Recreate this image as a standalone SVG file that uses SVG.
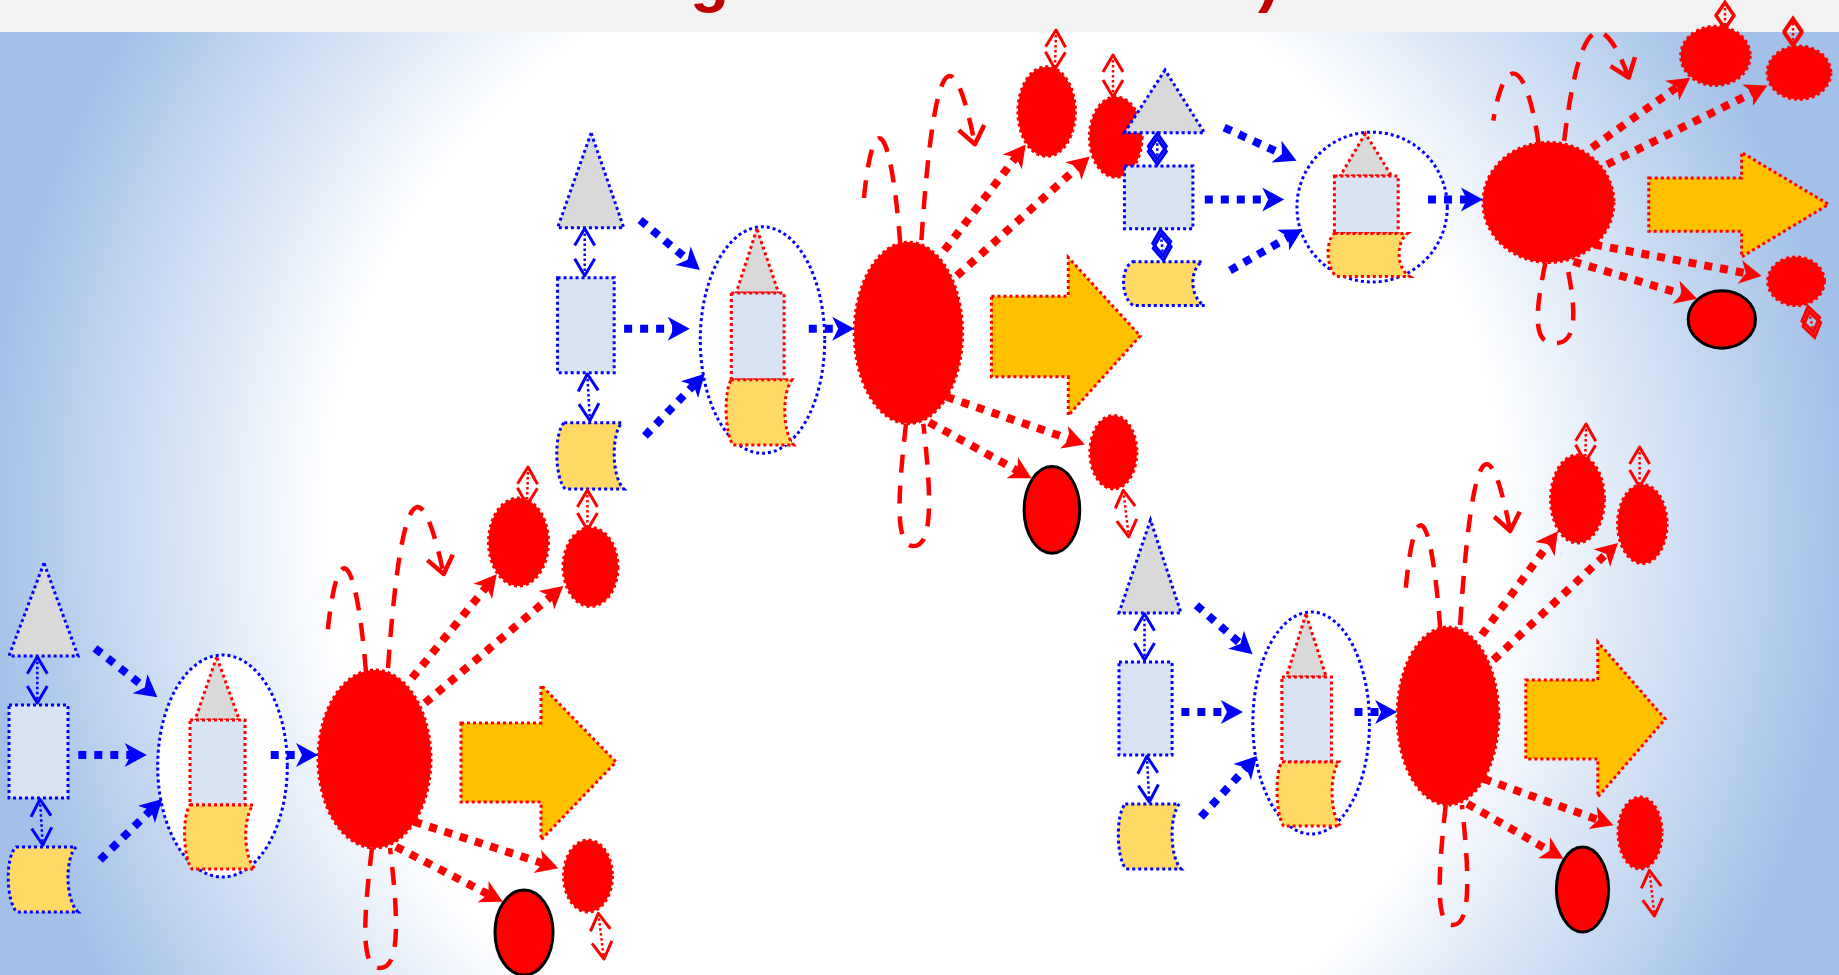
<svg xmlns="http://www.w3.org/2000/svg" width="1839" height="975" viewBox="0 0 1839 975">
<defs>
<radialGradient id="bg" gradientUnits="userSpaceOnUse" cx="915" cy="526" r="930">
<stop offset="0" stop-color="#ffffff"/>
<stop offset="0.63" stop-color="#ffffff"/>
<stop offset="1" stop-color="#a3c1e8"/>
</radialGradient>
<marker id="bh" markerUnits="userSpaceOnUse" viewBox="0 0 24 26" markerWidth="24" markerHeight="26" refX="11" refY="13" orient="auto" overflow="visible"><path d="M1,1 L23,13 L1,25 L7,13 Z" fill="#0000ff"/></marker>
<marker id="rh" markerUnits="userSpaceOnUse" viewBox="0 0 24 26" markerWidth="24" markerHeight="26" refX="11" refY="13" orient="auto" overflow="visible"><path d="M1,1 L23,13 L1,25 L7,13 Z" fill="#ff0000"/></marker>
<marker id="bv" markerUnits="userSpaceOnUse" viewBox="0 0 22 24" markerWidth="22" markerHeight="24" refX="19" refY="12" orient="auto-start-reverse" overflow="visible"><path d="M2,2 L19,12 L2,22" fill="none" stroke="#0000ff" stroke-width="3" stroke-linejoin="round"/></marker>
<marker id="rv" markerUnits="userSpaceOnUse" viewBox="0 0 22 24" markerWidth="22" markerHeight="24" refX="19" refY="12" orient="auto-start-reverse" overflow="visible"><path d="M2,2 L19,12 L2,22" fill="none" stroke="#ff0000" stroke-width="3" stroke-linejoin="round"/></marker>
<marker id="lv" markerUnits="userSpaceOnUse" viewBox="0 0 22 32" markerWidth="22" markerHeight="32" refX="19" refY="16" orient="auto" overflow="visible"><path d="M2,3 L19,16 L2,29" fill="none" stroke="#ff0000" stroke-width="4.5" stroke-linejoin="round"/></marker>
<marker id="bdm" markerUnits="userSpaceOnUse" viewBox="0 0 30 22" markerWidth="30" markerHeight="22" refX="28" refY="11" orient="auto-start-reverse" overflow="visible"><path d="M2,11 L15,2 L28,11 L15,20 Z" fill="none" stroke="#0000ff" stroke-width="3"/></marker>
<marker id="rdm" markerUnits="userSpaceOnUse" viewBox="0 0 30 22" markerWidth="30" markerHeight="22" refX="28" refY="11" orient="auto-start-reverse" overflow="visible"><path d="M2,11 L15,2 L28,11 L15,20 Z" fill="none" stroke="#ff0000" stroke-width="3"/></marker>
<style>
.bd{stroke:#0000ff;stroke-width:3;stroke-dasharray:3 3;vector-effect:non-scaling-stroke}
.rd{stroke:#ff0000;stroke-width:3;stroke-dasharray:3 3;vector-effect:non-scaling-stroke}
.tri{fill:#d9d9d9}
.rec{fill:#dae3f3}
.doc{fill:#ffd966}
.cont{fill:#ffffff}
.red{fill:#ff0000}
.yel{fill:#ffc000}
.blk{fill:#ff0000;stroke:#000000;stroke-width:3;vector-effect:non-scaling-stroke}
.ba{stroke:#0000ff;stroke-width:8;stroke-dasharray:8 8;fill:none;marker-end:url(#bh)}
.ra{stroke:#ff0000;stroke-width:8;stroke-dasharray:8 8;fill:none;marker-end:url(#rh)}
.bt{stroke:#0000ff;stroke-width:2.5;stroke-dasharray:2.5 2.5;fill:none;marker-start:url(#bv);marker-end:url(#bv)}
.rt{stroke:#ff0000;stroke-width:2.5;stroke-dasharray:2.5 2.5;fill:none;marker-start:url(#rv);marker-end:url(#rv)}
.btd{stroke:#0000ff;stroke-width:2.5;stroke-dasharray:2.5 2.5;fill:none;marker-start:url(#bdm);marker-end:url(#bdm)}
.rtd{stroke:#ff0000;stroke-width:2.5;stroke-dasharray:2.5 2.5;fill:none;marker-start:url(#rdm);marker-end:url(#rdm)}
.lp{stroke:#ff0000;stroke-width:4.5;stroke-dasharray:18 13;fill:none}
.lpa{marker-end:url(#lv)}
.ttl{font-family:"Liberation Sans",Arial,sans-serif;font-weight:bold;font-size:64px;fill:#c00000}
</style>
</defs>
<rect x="0" y="0" width="1839" height="975" fill="url(#bg)"/>
<rect x="0" y="0" width="1839" height="32" fill="#f2f2f2"/>
<text class="ttl" x="690" y="0">g</text>
<text class="ttl" x="1258" y="0">)</text>

<g id="module1">
<g id="m1-tri"><polygon class="tri bd" points="44,563 9,656 78,656"/></g>
<g id="m1-rect"><rect class="rec bd" x="9" y="705" width="59" height="93"/></g>
<g id="m1-doc"><path class="doc bd" d="M16,847 H76 C65,858 65,900 78,912 H17 C6,902 5,857 16,847 Z"/></g>
<g id="m1-cont"><ellipse class="cont bd" cx="222.5" cy="766" rx="64.8" ry="111"/>
<polygon class="tri rd" points="216.7,657 195,720 239.3,720"/>
<rect class="rec rd" x="190" y="720" width="55" height="85"/>
<path class="doc rd" d="M190,805 H253 C243,818 243,856 255,869 H192 C183,858 182,816 190,805 Z"/></g>
<g id="m1-big"><ellipse class="red rd" cx="374.5" cy="759" rx="56.5" ry="89"/></g>
<g id="m1-out"><path class="yel rd" d="M461,723 H541 V685 L616,762 L541,840 V802 H461 Z"/></g>
<g id="m1-a"><ellipse class="red rd" cx="518.5" cy="542" rx="30" ry="44"/></g>
<g id="m1-b"><ellipse class="red rd" cx="590.5" cy="567" rx="27.5" ry="39.5"/></g>
<g id="m1-c"><ellipse class="red rd" cx="588" cy="876" rx="24.5" ry="36"/></g>
<g id="m1-d"><ellipse class="blk" cx="524" cy="932.5" rx="29" ry="42.5"/></g>
</g>

<g id="module2" transform="matrix(0.96 0 0 1.02 548.9 -441.3)">
<g id="m2-tri"><polygon class="tri bd" points="44,563 9,656 78,656"/></g>
<g id="m2-rect"><rect class="rec bd" x="9" y="705" width="59" height="93"/></g>
<g id="m2-doc"><path class="doc bd" d="M16,847 H76 C65,858 65,900 78,912 H17 C6,902 5,857 16,847 Z"/></g>
<g id="m2-cont"><ellipse class="cont bd" cx="222.5" cy="766" rx="64.8" ry="111"/>
<polygon class="tri rd" points="216.7,657 195,720 239.3,720"/>
<rect class="rec rd" x="190" y="720" width="55" height="85"/>
<path class="doc rd" d="M190,805 H253 C243,818 243,856 255,869 H192 C183,858 182,816 190,805 Z"/></g>
<g id="m2-big"><ellipse class="red rd" cx="374.5" cy="759" rx="56.5" ry="89"/></g>
<g id="m2-out"><path class="yel rd" d="M461,723 H541 V685 L616,762 L541,840 V802 H461 Z"/></g>
<g id="m2-a"><ellipse class="red rd" cx="518.5" cy="542" rx="30" ry="44"/></g>
<g id="m2-b"><ellipse class="red rd" cx="590.5" cy="567" rx="27.5" ry="39.5"/></g>
<g id="m2-c"><ellipse class="red rd" cx="588" cy="876" rx="24.5" ry="36"/></g>
<g id="m2-d"><ellipse class="blk" cx="524" cy="932.5" rx="29" ry="42.5"/></g>
</g>

<g id="module3" transform="matrix(1.16 0 0 0.675 1114 -310)">
<g id="m3-tri"><polygon class="tri bd" points="44,563 9,656 78,656"/></g>
<g id="m3-rect"><rect class="rec bd" x="9" y="705" width="59" height="93"/></g>
<g id="m3-doc"><path class="doc bd" d="M16,847 H76 C65,858 65,900 78,912 H17 C6,902 5,857 16,847 Z"/></g>
<g id="m3-cont"><ellipse class="cont bd" cx="222.5" cy="766" rx="64.8" ry="111"/>
<polygon class="tri rd" points="216.7,657 195,720 239.3,720"/>
<rect class="rec rd" x="190" y="720" width="55" height="85"/>
<path class="doc rd" d="M190,805 H253 C243,818 243,856 255,869 H192 C183,858 182,816 190,805 Z"/></g>
<g id="m3-big"><ellipse class="red rd" cx="374.5" cy="759" rx="56.5" ry="89"/></g>
<g id="m3-out"><path class="yel rd" d="M461,723 H541 V685 L616,762 L541,840 V802 H461 Z"/></g>
<g id="m3-a"><ellipse class="red rd" cx="518.5" cy="542" rx="30" ry="44"/></g>
<g id="m3-b"><ellipse class="red rd" cx="590.5" cy="567" rx="27.5" ry="39.5"/></g>
<g id="m3-c"><ellipse class="red rd" cx="588" cy="876" rx="24.5" ry="36"/></g>
<g id="m3-d"><ellipse class="blk" cx="524" cy="932.5" rx="29" ry="42.5"/></g>
</g>

<g id="module4" transform="matrix(0.9 0 0 1 1110.9 -43)">
<g id="m4-tri"><polygon class="tri bd" points="44,563 9,656 78,656"/></g>
<g id="m4-rect"><rect class="rec bd" x="9" y="705" width="59" height="93"/></g>
<g id="m4-doc"><path class="doc bd" d="M16,847 H76 C65,858 65,900 78,912 H17 C6,902 5,857 16,847 Z"/></g>
<g id="m4-cont"><ellipse class="cont bd" cx="222.5" cy="766" rx="64.8" ry="111"/>
<polygon class="tri rd" points="216.7,657 195,720 239.3,720"/>
<rect class="rec rd" x="190" y="720" width="55" height="85"/>
<path class="doc rd" d="M190,805 H253 C243,818 243,856 255,869 H192 C183,858 182,816 190,805 Z"/></g>
<g id="m4-big"><ellipse class="red rd" cx="374.5" cy="759" rx="56.5" ry="89"/></g>
<g id="m4-out"><path class="yel rd" d="M461,723 H541 V685 L616,762 L541,840 V802 H461 Z"/></g>
<g id="m4-a"><ellipse class="red rd" cx="518.5" cy="542" rx="30" ry="44"/></g>
<g id="m4-b"><ellipse class="red rd" cx="590.5" cy="567" rx="27.5" ry="39.5"/></g>
<g id="m4-c"><ellipse class="red rd" cx="588" cy="876" rx="24.5" ry="36"/></g>
<g id="m4-d"><ellipse class="blk" cx="524" cy="932.5" rx="29" ry="42.5"/></g>
</g>

<g id="connectors">
<line class="ba" x1="95" y1="648.3" x2="147.9" y2="689.9"/>
<line class="ba" x1="78.3" y1="755" x2="134.7" y2="755"/>
<line class="ba" x1="100" y1="860" x2="153.7" y2="807.4"/>
<line class="ba" x1="270.7" y1="755" x2="306" y2="755"/>
<line class="ra" x1="412" y1="678" x2="489.1" y2="583.6"/>
<line class="ra" x1="425" y1="703" x2="554.1" y2="593.8"/>
<line class="ra" x1="414" y1="821.7" x2="546.9" y2="864.6"/>
<line class="ra" x1="396" y1="846.7" x2="492" y2="896.2"/>
<line class="bt" x1="37.3" y1="656.7" x2="37.3" y2="703"/>
<line class="bt" x1="40" y1="799.3" x2="42.7" y2="845"/>
<line class="rt" x1="528" y1="467" x2="527" y2="505"/>
<line class="rt" x1="587.4" y1="490" x2="587.4" y2="530"/>
<line class="rt" x1="598.3" y1="913.3" x2="604" y2="959"/>
<path class="lp" d="M366,672 C355,540 336,540 327,638"/>
<path class="lp lpa" d="M388,668 C400,500 418,455 443.7,574"/>
<path class="lp" d="M372,848 C362,930 362,968 380,968 C398,968 400,930 390,848"/>

<line class="ba" x1="640.1" y1="220" x2="690.7" y2="262.2"/>
<line class="ba" x1="624.1" y1="328.8" x2="677.7" y2="328.8"/>
<line class="ba" x1="644.9" y1="435.9" x2="696.4" y2="382.4"/>
<line class="ba" x1="808.8" y1="328.8" x2="842.2" y2="328.8"/>
<line class="ra" x1="944.4" y1="250.3" x2="1018.4" y2="154"/>
<line class="ra" x1="956.9" y1="275.8" x2="1080.8" y2="164.4"/>
<line class="ra" x1="946.3" y1="396.8" x2="1073.5" y2="440.5"/>
<line class="ra" x1="929.1" y1="422.3" x2="1021" y2="472.6"/>
<line class="bt" x1="584.7" y1="228.5" x2="584.7" y2="275.8"/>
<line class="bt" x1="587.3" y1="374" x2="589.9" y2="420.6"/>
<line class="rt" x1="1056" y1="30" x2="1055" y2="69"/>
<line class="rt" x1="1113" y1="55" x2="1113" y2="97"/>
<line class="rt" x1="1123.3" y1="490.3" x2="1128.7" y2="536.9"/>
<path class="lp" d="M900.3,244.1 C889.7,109.5 871.5,109.5 862.8,209.5"/>
<path class="lp lpa" d="M921.4,240.1 C932.9,68.7 950.2,22.8 974.9,144.2"/>
<path class="lp" d="M906,423.7 C896.4,507.3 896.4,546.1 913.7,546.1 C931,546.1 932.9,507.3 923.3,423.7"/>

<line class="ba" x1="1224.2" y1="127.6" x2="1285.6" y2="155.7"/>
<line class="ba" x1="1204.8" y1="199.6" x2="1272.2" y2="199.6"/>
<line class="ba" x1="1230" y1="270.5" x2="1291.9" y2="235.2"/>
<line class="ba" x1="1428" y1="199.6" x2="1470.9" y2="199.6"/>
<line class="ra" x1="1591.9" y1="147.7" x2="1680.4" y2="84.7"/>
<line class="ra" x1="1607" y1="164.5" x2="1756.6" y2="90.9"/>
<line class="ra" x1="1594.2" y1="244.6" x2="1749.8" y2="273.9"/>
<line class="ra" x1="1573.4" y1="261.5" x2="1685.6" y2="295.2"/>
<line class="btd" x1="1157.3" y1="133.3" x2="1157.3" y2="164.5"/>
<line class="btd" x1="1160.4" y1="229.5" x2="1163.5" y2="260.4"/>
<line class="rtd" x1="1725" y1="3" x2="1725" y2="28"/>
<line class="rtd" x1="1793" y1="18" x2="1793" y2="46"/>
<line class="rtd" x1="1808" y1="306.5" x2="1814.6" y2="337.3"/>
<path class="lp" d="M1538.6,143.6 C1525.8,54.5 1503.8,54.5 1493.3,120.7"/>
<path class="lp lpa" d="M1564.1,140.9 C1578,27.5 1598.9,-2.9 1628.7,77.5"/>
<path class="lp" d="M1545.5,262.4 C1533.9,317.8 1533.9,343.4 1554.8,343.4 C1575.7,343.4 1578,317.8 1566.4,262.4"/>

<line class="ba" x1="1196.4" y1="605.3" x2="1243.5" y2="646.4"/>
<line class="ba" x1="1181.4" y1="712" x2="1230.9" y2="712"/>
<line class="ba" x1="1200.9" y1="817" x2="1248.9" y2="764.8"/>
<line class="ba" x1="1354.5" y1="712" x2="1385.1" y2="712"/>
<line class="ra" x1="1481.7" y1="635" x2="1550.8" y2="541"/>
<line class="ra" x1="1493.4" y1="660" x2="1609.2" y2="551.2"/>
<line class="ra" x1="1483.5" y1="778.7" x2="1602.1" y2="821.2"/>
<line class="ra" x1="1467.3" y1="803.7" x2="1552.9" y2="852.7"/>
<line class="bt" x1="1144.5" y1="613.7" x2="1144.5" y2="660"/>
<line class="bt" x1="1146.9" y1="756.3" x2="1149.3" y2="802"/>
<line class="rt" x1="1586.1" y1="424" x2="1585.2" y2="462"/>
<line class="rt" x1="1639.6" y1="447" x2="1639.6" y2="487"/>
<line class="rt" x1="1649.4" y1="870.3" x2="1654.5" y2="916"/>
<path class="lp" d="M1440.3,629 C1430.4,497 1413.3,497 1405.2,595"/>
<path class="lp lpa" d="M1460.1,625 C1470.9,457 1487.1,412 1510.2,531"/>
<path class="lp" d="M1445.7,805 C1436.7,887 1436.7,925 1452.9,925 C1469.1,925 1470.9,887 1461.9,805"/>
</g>
</svg>
